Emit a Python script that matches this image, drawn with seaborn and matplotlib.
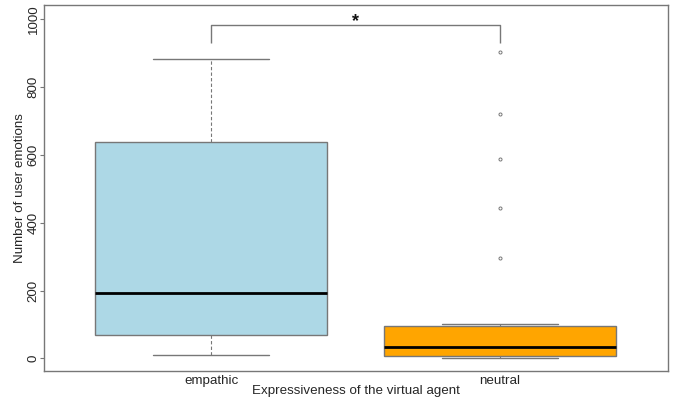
import pandas as pd
import matplotlib
matplotlib.use("Agg")
import matplotlib.pyplot as plt
import seaborn as sns

# raw counts per participant (read back from the box/whisker positions)
empathic = [10, 35, 69, 130, 194, 420, 637, 760, 882]
neutral = [0, 1, 2, 3, 5, 7, 8, 10, 14, 18, 22, 28, 33,
           40, 52, 64, 78, 88, 96, 100, 296, 443, 589, 721, 904]
groups = ["empathic", "neutral"]
box_colors = ["#ADD8E6", "#FFA500"]

# significance bracket
bracket_top = 983
bracket_foot = 931
star_y = 992

df = pd.DataFrame({
    "group": ["empathic"] * len(empathic) + ["neutral"] * len(neutral),
    "count": empathic + neutral,
})

sns.set_style("white")
plt.rcParams["font.family"] = ["Liberation Sans", "DejaVu Sans"]

line_c = "#777777"
fig = plt.figure(figsize=(6.77, 3.98), dpi=100)
ax = fig.add_axes([0.0654, 0.0678, 0.9209, 0.9196])

sns.boxplot(data=df, x="group", y="count", hue="group", order=groups,
            hue_order=groups, palette=box_colors, saturation=1, legend=False,
            width=0.8, linecolor=line_c, linewidth=1, ax=ax,
            capwidths=0.4,
            medianprops=dict(color="black", linewidth=2),
            whiskerprops=dict(linestyle=(0, (3, 2)), linewidth=0.8),
            flierprops=dict(marker="o", markersize=2.2, markerfacecolor="white",
                            markeredgecolor=line_c, markeredgewidth=0.7))

# bracket + star
ax.plot([0, 0, 1, 1], [bracket_foot, bracket_top, bracket_top, bracket_foot],
        color=line_c, linewidth=1, solid_capstyle="butt")
ax.text(0.5, star_y, "*", ha="center", va="center", fontsize=13,
        fontweight="bold", color="#111111")

ax.set_xlim(-0.577, 1.580)
ax.set_ylim(-37.5, 1042.2)
ax.set_yticks([0, 200, 400, 600, 800, 1000])
ax.set_xlabel("Expressiveness of the virtual agent", fontsize=9.6)
ax.set_ylabel("Number of user emotions", fontsize=9.6)
ax.xaxis.set_label_coords(0.5, -0.0546)
ax.xaxis.label.set_va("center")
ax.yaxis.set_label_coords(-0.039, 0.5)
ax.yaxis.label.set_va("center")
ax.tick_params(axis="y", labelrotation=90, labelsize=9.6, length=2.8,
               color=line_c, width=0.8, left=True, pad=0.5)
ax.tick_params(axis="x", labelsize=9.6, length=0, pad=3)
for lab in ax.get_yticklabels():
    lab.set_va("center")
for s in ax.spines.values():
    s.set_color(line_c)
    s.set_linewidth(1)

fig.savefig("out.png", dpi=100)
